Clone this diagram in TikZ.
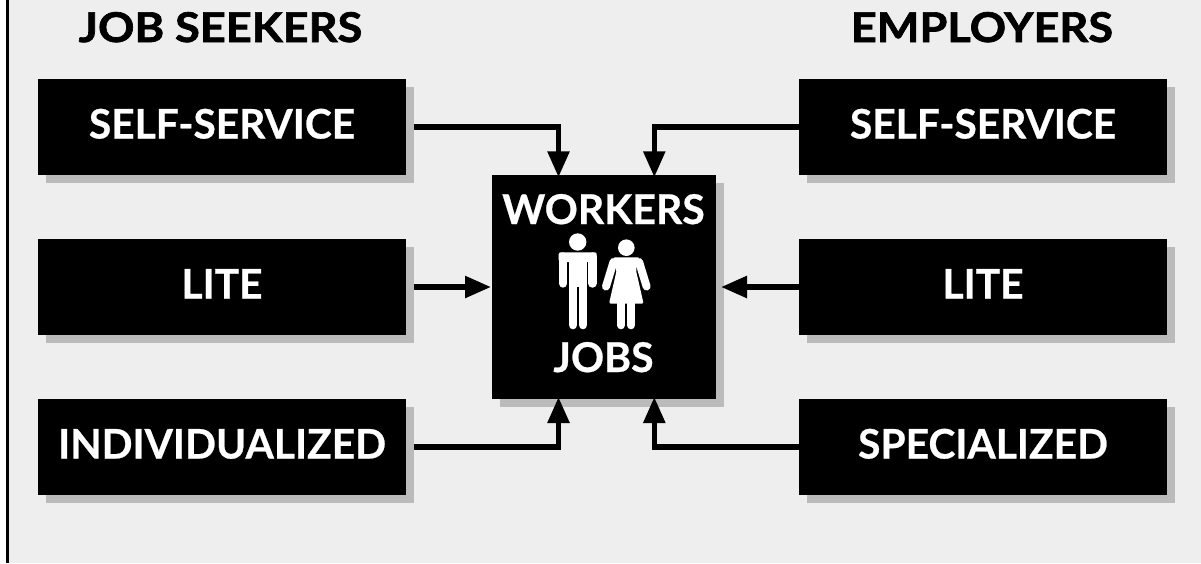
\documentclass[tikz,border=0pt]{standalone}
\usepackage{fontspec}
\setmainfont[BoldFeatures={FakeBold=0.6}]{Lato}
\newfontfamily\heavyfont[BoldFeatures={FakeStretch=1.10,FakeBold=1.6}]{Lato}
\usetikzlibrary{arrows.meta}
\definecolor{bgc}{HTML}{EEEEEE}
\definecolor{shc}{HTML}{BBBBBB}
\tikzset{
  x=1pt,y=-1pt,
  every node/.style={inner sep=0pt,outer sep=0pt},
  boxs/.style={minimum width=368pt,minimum height=96pt,fill=black,text=white,text height=29pt,text depth=6pt,font=\fontsize{40.7}{42}\selectfont\bfseries},
  centerbox/.style={minimum width=224pt,minimum height=224pt,fill=black},
  shadowr/.style={fill=shc},
  head/.style={font=\fontsize{41}{42}\heavyfont\bfseries,text=black},
  ctext/.style={font=\fontsize{41}{42}\selectfont\bfseries,text=white},
  conn/.style={line width=5.5pt,-{Triangle[length=26pt,width=21pt]},miter limit=10},
  fig/.style={fill=white},
  limb/.style={draw=white,line width=8.6pt,line cap=round},
}
\begin{document}
\begin{tikzpicture}
\useasboundingbox (0,0) rectangle (1201,563);
\fill[white] (0,0) rectangle (1201,563);
\fill[bgc] (8,0) rectangle (1201,563);
\fill[black] (6,0) rectangle (8.6,563);
% shadows
\foreach \xx/\yy in {46/87,46/247,46/407,807/87,807/247,807/407}
  \fill[shadowr] (\xx,\yy) rectangle ++(368,96);
\fill[shadowr] (500,183) rectangle ++(224,224);
% boxes
\node[boxs] (ls) at (222,127) {SELF-SERVICE};
\node[boxs] (ll) at (222,287) {LITE};
\node[boxs] (li) at (222,447) {INDIVIDUALIZED};
\node[boxs] (rs) at (983,127) {SELF-SERVICE};
\node[boxs] (rl) at (983,287) {LITE};
\node[boxs] (rz) at (983,447) {SPECIALIZED};
\node[centerbox] (core) at (604,287) {};
\node[head,anchor=base] (hl) at (220.5,42) {JOB SEEKERS};
\node[head,anchor=base] (hr) at (982,42) {EMPLOYERS};
\node[ctext,anchor=base] (tw) at (603.5,224) {WORKERS};
\node[ctext,anchor=base] (tj) at (603.5,372) {JOBS};
% connectors
\draw[conn] ([xshift=8pt]ls.east) -| ([xshift=-45.5pt,yshift=-2.3pt]core.north);
\draw[conn] ([xshift=-0pt]rs.west) -| ([xshift=50.3pt,yshift=-2.3pt]core.north);
\draw[conn] ([xshift=8pt]ll.east) -- ([xshift=-1pt]core.west);
\draw[conn] (rl.west) -- ([xshift=5pt]core.east);
\draw[conn] ([xshift=8pt]li.east) -| ([xshift=-45.5pt,yshift=2pt]core.south);
\draw[conn] (rz.west) -| ([xshift=50.3pt,yshift=2pt]core.south);
% man
\fill[fig] (577.7,242) circle (8.7);
\fill[fig,rounded corners=2pt] (558.7,256) -- (558.7,252.3) -- (596.7,252.3) -- (596.7,262) -- (558.7,262) -- cycle;
\draw[limb] (563,256.6) -- (563,283.4);
\draw[limb] (592.4,256.6) -- (592.4,283.4);
\fill[fig] (568.7,254) rectangle (587.3,287);
\draw[limb,line width=8.6pt] (573,280) -- (573,325);
\draw[limb,line width=8.6pt] (583,280) -- (583,325);
\fill[black] (576.9,287) rectangle (578.7,330);
% woman
\fill[fig] (626.3,247.7) circle (8.3);
\draw[limb,line width=8pt] (613.5,262) -- (606,286.5);
\draw[limb,line width=8pt] (639.1,262) -- (646.6,286.5);
\fill[fig,rounded corners=2pt] (609,303.7) -- (616.7,270) -- (613,257.3) -- (639.6,257.3) -- (635.9,270) -- (643.6,303.7) -- cycle;
\draw[limb,line width=8pt] (621,300) -- (621,325.3);
\draw[limb,line width=8pt] (631,300) -- (631,325.3);
\end{tikzpicture}
\end{document}
